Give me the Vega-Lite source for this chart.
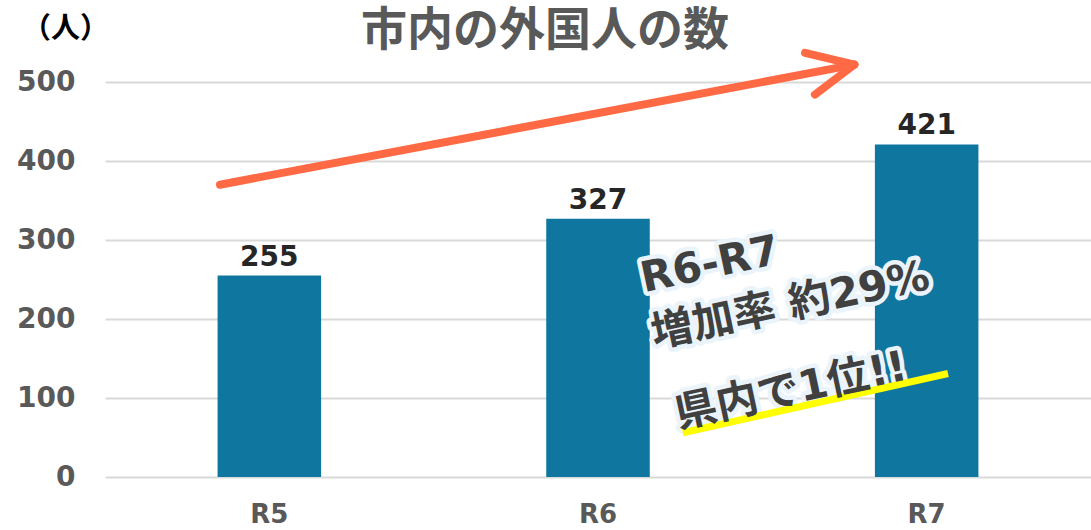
{
  "$schema": "https://vega.github.io/schema/vega-lite/v6.json",
  "width": 986,
  "height": 395,
  "autosize": {"type": "none"},
  "padding": {"left": 105, "top": 82, "right": 0, "bottom": 53},
  "background": "white",
  "title": {
    "text": "市内の外国人の数",
    "fontSize": 46,
    "font": "Noto Sans CJK JP",
    "fontWeight": "bold",
    "color": "#595959",
    "anchor": "middle",
    "dx": -53,
    "offset": -41
  },
  "config": {
    "view": {"stroke": null},
    "axis": {"labelFont": "DejaVu Sans", "labelFontWeight": "bold", "labelColor": "#595959"}
  },
  "datasets": {
    "bars": [
      {"year": "R5", "count": 255},
      {"year": "R6", "count": 327},
      {"year": "R7", "count": 421}
    ],
    "arrow": [
      {"part": "shaft", "u": 0.35, "v": 370, "u2": 2.28, "v2": 522},
      {"part": "wing1", "u": 2.13, "v": 537, "u2": 2.28, "v2": 522},
      {"part": "wing2", "u": 2.16, "v": 484, "u2": 2.28, "v2": 522}
    ],
    "highlight": [
      {"u": 1.758, "v": 56, "u2": 2.565, "v2": 131}
    ],
    "notes": [
      {"label": "R6-R7", "u": 1.64, "v": 234},
      {"label": "増加率 約29%", "u": 1.672, "v": 164},
      {"label": "県内で1位!!", "u": 1.745, "v": 62}
    ]
  },
  "layer": [
    {
      "data": {"name": "bars"},
      "encoding": {
        "x": {
          "field": "year",
          "type": "nominal",
          "scale": {"paddingInner": 0.685, "paddingOuter": 0.3425},
          "axis": {
            "title": null,
            "domain": false,
            "ticks": false,
            "labelAngle": 0,
            "labelFontSize": 26,
            "labelPadding": 24
          }
        },
        "y": {
          "field": "count",
          "type": "quantitative",
          "scale": {"domain": [0, 500]},
          "axis": {
            "values": [0, 100, 200, 300, 400, 500],
            "domain": false,
            "ticks": false,
            "gridColor": "#d9d9d9",
            "gridWidth": 2,
            "labelFontSize": 28,
            "labelPadding": 30,
            "title": "（人）",
            "titleAngle": 0,
            "titleX": -40,
            "titleY": -54,
            "titleAlign": "center",
            "titleBaseline": "middle",
            "titleFont": "Noto Sans CJK JP",
            "titleFontSize": 29,
            "titleFontWeight": "bold",
            "titleColor": "#000000"
          }
        }
      },
      "layer": [
        {"mark": {"type": "bar", "color": "#0F76A0"}},
        {
          "mark": {"type": "text", "baseline": "bottom", "dy": -4, "font": "DejaVu Sans", "fontWeight": "bold", "fontSize": 28, "color": "#262626"},
          "encoding": {"text": {"field": "count"}}
        }
      ]
    },
    {
      "data": {"name": "arrow"},
      "mark": {"type": "rule", "color": "#FF6A45", "strokeWidth": 8, "strokeCap": "round", "clip": false},
      "encoding": {
        "x": {"field": "u", "type": "quantitative", "scale": {"domain": [0, 3]}, "axis": null},
        "x2": {"field": "u2"},
        "y": {"field": "v", "type": "quantitative"},
        "y2": {"field": "v2"}
      }
    },
    {
      "data": {"name": "notes"},
      "mark": {"type": "text", "align": "left", "baseline": "alphabetic", "angle": 348, "font": "DejaVu Sans, Noto Sans CJK JP", "fontWeight": "bold", "fontSize": 42, "color": "#FFFFFF", "stroke": "#EAF4FA", "strokeWidth": 9, "strokeJoin": "round"},
      "encoding": {
        "x": {"field": "u", "type": "quantitative", "scale": {"domain": [0, 3]}, "axis": null},
        "y": {"field": "v", "type": "quantitative"},
        "text": {"field": "label"}
      }
    },
    {
      "data": {"name": "highlight"},
      "mark": {"type": "rule", "color": "#FFFF00", "strokeWidth": 7, "clip": false},
      "encoding": {
        "x": {"field": "u", "type": "quantitative", "scale": {"domain": [0, 3]}, "axis": null},
        "x2": {"field": "u2"},
        "y": {"field": "v", "type": "quantitative"},
        "y2": {"field": "v2"}
      }
    },
    {
      "data": {"name": "notes"},
      "mark": {"type": "text", "align": "left", "baseline": "alphabetic", "angle": 348, "font": "DejaVu Sans, Noto Sans CJK JP", "fontWeight": "bold", "fontSize": 42, "color": "#404040"},
      "encoding": {
        "x": {"field": "u", "type": "quantitative", "scale": {"domain": [0, 3]}, "axis": null},
        "y": {"field": "v", "type": "quantitative"},
        "text": {"field": "label"}
      }
    }
  ],
  "resolve": {"scale": {"x": "independent"}}
}
